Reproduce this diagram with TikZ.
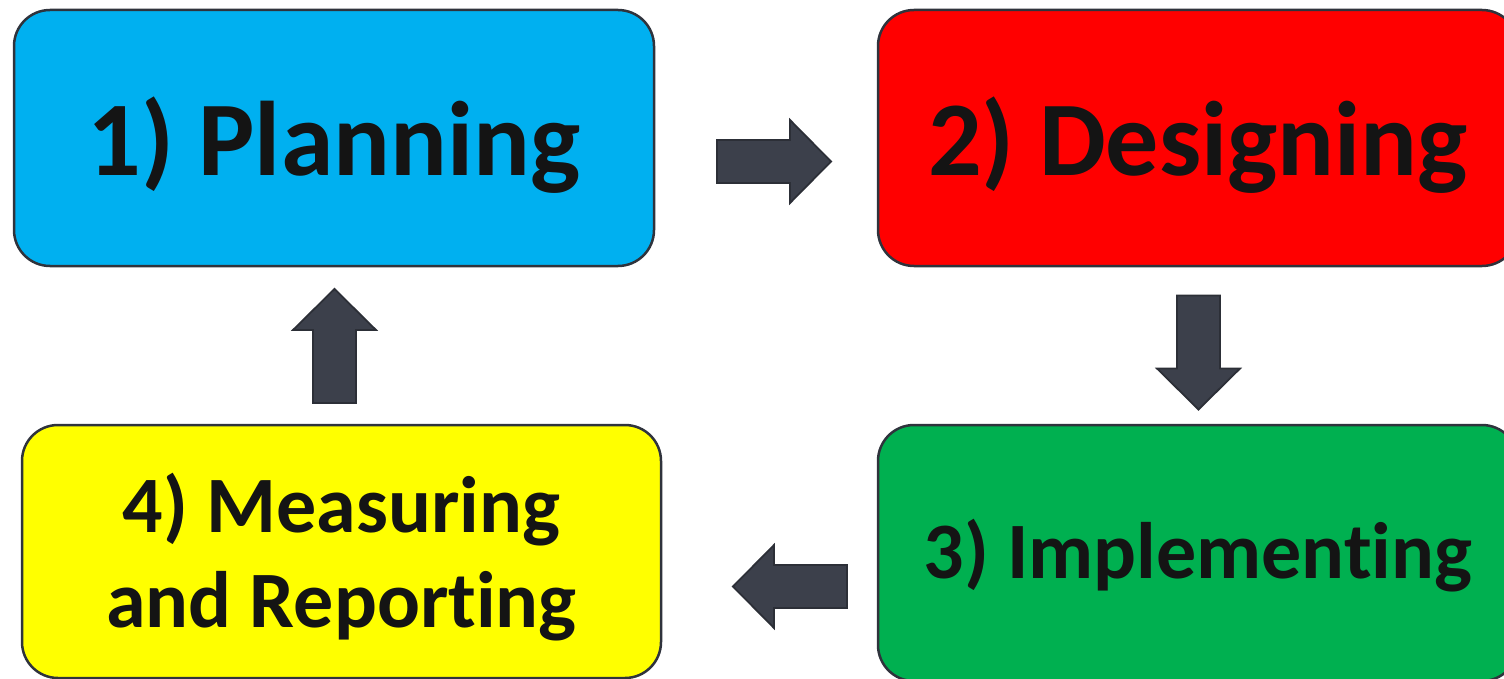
\documentclass[tikz,border=0pt]{standalone}
\usepackage{fontspec}
\setmainfont[Ligatures={NoCommon}]{Carlito}
\definecolor{cblue}{HTML}{00B0F0}
\definecolor{cred}{HTML}{FF0000}
\definecolor{cgreen}{HTML}{00B050}
\definecolor{cyellow}{HTML}{FFFF00}
\definecolor{edge}{HTML}{2F333C}
\definecolor{arrfill}{HTML}{3C404B}
\definecolor{arredge}{HTML}{2C2F37}
\definecolor{txt}{HTML}{141414}
\begin{document}
\begin{tikzpicture}[x=1pt,y=-1pt,
  stage/.style={draw=edge,line width=2.5pt,rounded corners=36pt,minimum width=640pt,minimum height=256pt,inner sep=0pt,align=center,text=txt},
  blockarrow/.pic={\fill[arrfill,draw=arredge,line width=1.8pt,line join=miter]
     (-57,-21.5) -- (16,-21.5) -- (16,-41.5) -- (57,0) -- (16,41.5) -- (16,21.5) -- (-57,21.5) -- cycle;}
]
\useasboundingbox (0,0) rectangle (1504,679);
\clip (0,0) rectangle (1504,679);
\node[stage,fill=cblue] (p) at (334,138) {};
\node[stage,fill=cred] (d) at (1198,138) {};
\node[stage,fill=cgreen] (i) at (1198,553) {};
\node[stage,fill=cyellow,minimum width=639pt,minimum height=253pt] (m) at (341.5,551.5) {};
\node[text=txt,font=\bfseries\fontsize{106}{110}\selectfont] (pt) at (334,145) {1) Planning};
\node[text=txt,font=\bfseries\fontsize{106}{110}\selectfont] (dt) at (1198,145) {2) Designing};
\node[text=txt,font=\bfseries\fontsize{80}{90}\selectfont] (it) at (1198,556) {3) Implementing};
\node[text=txt,align=center,font=\bfseries\fontsize{80}{95}\selectfont] (mt) at (341.5,557) {4) Measuring\\and Reporting};
\pic at (774,161.5) {blockarrow};
\pic[rotate=-90] at (1198.5,352.5) {blockarrow};
\pic[rotate=180] at (790,586.5) {blockarrow};
\pic[rotate=90] at (334.5,346) {blockarrow};
\end{tikzpicture}
\end{document}
